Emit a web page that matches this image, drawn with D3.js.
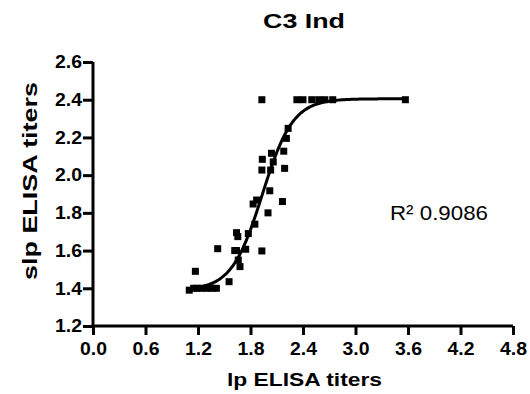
<!DOCTYPE html>
<html>
<head>
<meta charset="utf-8">
<script src="https://cdn.jsdelivr.net/npm/d3@7"></script>
<style>
  html, body { margin: 0; padding: 0; background: #fff; }
  svg { display: block; }
  text { font-family: "Liberation Sans", Arial, sans-serif; }
</style>
</head>
<body>
<svg id="chart" width="530" height="394"></svg>
<script>
// ---- data ----
const lpTiters = [1.10, 1.15, 1.19, 1.24, 1.30, 1.36, 1.41, 1.17, 1.425, 1.555,
  1.64, 1.66, 1.68, 1.64, 1.655, 1.745, 1.775, 1.93, 1.62, 1.85, 1.83, 1.87,
  2.00, 2.02, 2.165, 1.93, 2.03, 2.19, 1.935, 2.06, 2.04, 2.18, 2.21, 2.23,
  1.93, 2.33, 2.40, 2.50, 2.58, 2.65, 2.74, 3.57];
const slpTiters = [1.39, 1.40, 1.40, 1.40, 1.40, 1.40, 1.40, 1.49, 1.61, 1.435,
  1.60, 1.55, 1.515, 1.695, 1.674, 1.607, 1.69, 1.598, 1.60, 1.74, 1.847, 1.868,
  1.80, 1.917, 1.86, 2.027, 2.027, 2.036, 2.084, 2.07, 2.116, 2.127, 2.195, 2.248,
  2.40, 2.40, 2.40, 2.40, 2.40, 2.40, 2.40, 2.40];
const xTicks = [0.0, 0.6, 1.2, 1.8, 2.4, 3.0, 3.6, 4.2, 4.8];
const yTicks = [1.2, 1.4, 1.6, 1.8, 2.0, 2.2, 2.4, 2.6];
// fitted sigmoid parameters (bottom, top, x50, slope) and fit range
const fitParams = { bottom: 1.39, top: 2.405, x50: 1.935, slope: 0.175 };
const fitRange = [1.07, 3.6];
const titleText = "C3 Ind";
const xLabel = "lp ELISA titers";
const yLabel = "slp ELISA titers";
const r2Text = "R\u00B2 0.9086";

// ---- drawing ----
const svg = d3.select("#chart");
svg.append("rect").attr("width", 530).attr("height", 394).attr("fill", "#fff");

const x = d3.scaleLinear().domain([0, 4.8]).range([93, 513]);
const y = d3.scaleLinear().domain([1.2, 2.6]).range([326, 62]);

// axes
const xAxis = d3.axisBottom(x).tickValues(xTicks).tickFormat(d3.format(".1f"))
  .tickSize(9).tickSizeOuter(0).tickPadding(7);
const yAxis = d3.axisLeft(y).tickValues(yTicks).tickFormat(d3.format(".1f"))
  .tickSize(10).tickSizeOuter(0).tickPadding(1);

const gx = svg.append("g").attr("transform", "translate(0,326)").call(xAxis);
const gy = svg.append("g").attr("transform", "translate(93,0)").call(yAxis);

[gx, gy].forEach(g => {
  g.select(".domain").attr("stroke", "#000").attr("stroke-width", 3);
  g.selectAll(".tick line").attr("stroke", "#000").attr("stroke-width", 3);
  g.selectAll(".tick text")
    .attr("fill", "#000")
    .style("font-family", "'Liberation Sans', Arial, sans-serif")
    .style("font-size", "18px")
    .style("font-weight", "bold")
    .attr("textLength", 27)
    .attr("lengthAdjust", "spacingAndGlyphs");
});
// extend domain lines so axes meet at corner
gx.select(".domain").attr("d", `M${x(0) - 1.5},0H${x(4.8)}`);
gy.select(".domain").attr("d", `M0,${y(2.6)}V${y(1.2) + 1.5}`);

// fitted curve
const sig = v => fitParams.bottom + (fitParams.top - fitParams.bottom) /
  (1 + Math.exp((fitParams.x50 - v) / fitParams.slope));
const curveX = d3.range(fitRange[0], fitRange[1] + 0.001, 0.01);
svg.append("path")
  .datum(curveX)
  .attr("fill", "none")
  .attr("stroke", "#000")
  .attr("stroke-width", 3)
  .attr("d", d3.line().x(d => x(d)).y(d => y(sig(d))));

// points
const pts = lpTiters.map((v, i) => ({ x: v, y: slpTiters[i] }));
const s = 7;
svg.append("g").selectAll("rect").data(pts).join("rect")
  .attr("x", d => x(d.x) - s / 2)
  .attr("y", d => y(d.y) - s / 2)
  .attr("width", s).attr("height", s)
  .attr("fill", "#000");

// title
svg.append("text")
  .attr("x", 304).attr("y", 28)
  .attr("text-anchor", "middle")
  .style("font-size", "21px").style("font-weight", "bold")
  .attr("textLength", 82).attr("lengthAdjust", "spacingAndGlyphs")
  .text(titleText);

// x label
svg.append("text")
  .attr("x", 304.5).attr("y", 386)
  .attr("text-anchor", "middle")
  .style("font-size", "19px").style("font-weight", "bold")
  .attr("textLength", 155).attr("lengthAdjust", "spacingAndGlyphs")
  .text(xLabel);

// y label
svg.append("text")
  .attr("transform", "translate(37,181) rotate(-90)")
  .attr("text-anchor", "middle")
  .style("font-size", "21px").style("font-weight", "bold")
  .attr("textLength", 198).attr("lengthAdjust", "spacingAndGlyphs")
  .text(yLabel);

// R squared
svg.append("text")
  .attr("x", 390).attr("y", 220)
  .style("font-size", "21px")
  .attr("textLength", 98).attr("lengthAdjust", "spacingAndGlyphs")
  .text(r2Text);
</script>
</body>
</html>
